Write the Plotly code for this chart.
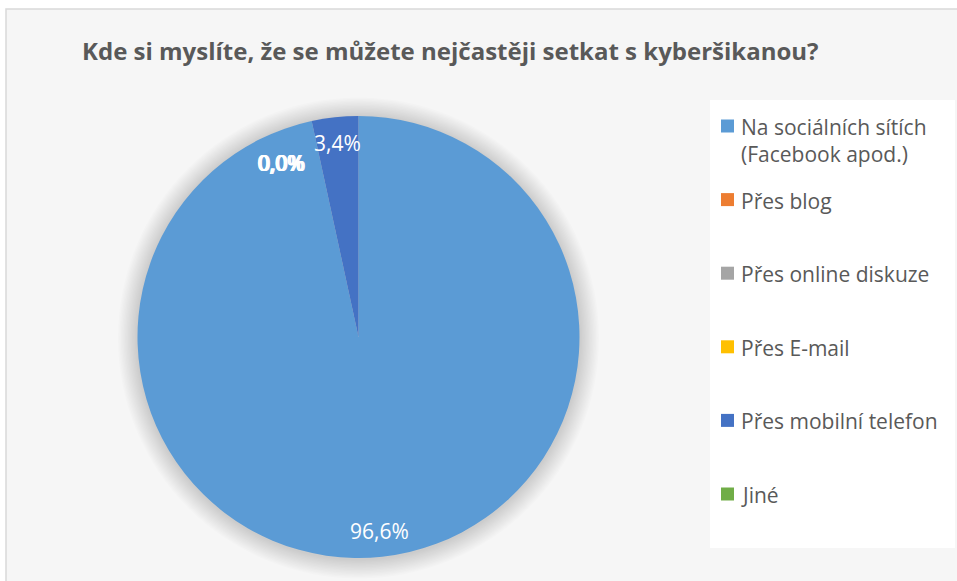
import math
import plotly.graph_objects as go

# ---- data ----
title = "Kde si myslíte, že se můžete nejčastěji setkat s kyberšikanou?"
labels = ["Na sociálních sítích<br>(Facebook apod.)", "Přes blog", "Přes online diskuze",
          "Přes E-mail", "Přes mobilní telefon", "Jiné"]
values = [96.6, 0.0, 0.0, 0.0, 3.4, 0.0]
text_labels = ["96,6%", "0,0%", "0,0%", "0,0%", "3,4%", "0,0%"]
colors = ["#5B9BD5", "#ED7D31", "#A5A5A5", "#FFC000", "#4472C4", "#70AD47"]

W, H = 957, 581
def px(x):
    return x / W
def py(y):
    return 1 - y / H

# pie geometry (pixels)
cx, cy, r = 358.5, 337, 221

fig = go.Figure()
fig.add_trace(go.Pie(
    labels=labels, values=values, sort=False, direction="clockwise", rotation=0,
    marker=dict(colors=colors, line=dict(width=0)),
    textinfo="none", hoverinfo="label+percent", showlegend=False,
    domain=dict(x=[px(cx - r), px(cx + r)], y=[py(cy + r), py(cy - r)]),
))

shapes = []
# chart area background + border
shapes.append(dict(type="rect", xref="paper", yref="paper", x0=px(6), x1=px(960), y0=py(584), y1=py(9),
                   fillcolor="#F6F6F6", line=dict(color="#D9D9D9", width=1.5), layer="below"))
# legend box
shapes.append(dict(type="rect", xref="paper", yref="paper", x0=px(710), x1=px(955), y0=py(548), y1=py(100),
                   fillcolor="#FFFFFF", line=dict(width=0), layer="below"))
# soft shadow around pie
for i in range(14, 0, -1):
    rr = r + i * 1.4
    shapes.append(dict(type="circle", xref="paper", yref="paper",
                       x0=px(cx - rr), x1=px(cx + rr), y0=py(cy + 1 + rr), y1=py(cy + 1 - rr),
                       fillcolor="rgba(0,0,0,0.011)", line=dict(width=0), layer="below"))

annotations = []
annotations.append(dict(text="<b>" + title + "</b>", x=px(450), y=py(50), xref="paper", yref="paper",
                        showarrow=False, xanchor="center", yanchor="middle",
                        font=dict(family="Open Sans", size=24, color="#595959")))

# data labels derived from values
total = sum(values)
cum = 0.0
zero_anchor = None
zero_k = 0
for v, t in zip(values, text_labels):
    start = cum / total * 360
    cum += v
    end = cum / total * 360
    if v > 0:
        mid = (start + end) / 2
        rf = 0.885
        dx = 0
    else:
        if zero_anchor is None:
            zero_anchor = start
        mid = zero_anchor - 12.0
        rf = 0.865
        dx = zero_k * 0.7
        zero_k += 1
    a = math.radians(mid)
    x = cx + rf * r * math.sin(a) + dx
    y = cy - rf * r * math.cos(a)
    annotations.append(dict(text=t, x=px(x), y=py(y), xref="paper", yref="paper", showarrow=False,
                            xanchor="center", yanchor="middle",
                            font=dict(family="Open Sans", size=21, color="#FFFFFF")))

# legend (manual)
leg_y0, leg_step = 126, 73.6
for i, (lab, col) in enumerate(zip(labels, colors)):
    yc = leg_y0 + i * leg_step
    shapes.append(dict(type="rect", xref="paper", yref="paper", x0=px(721), x1=px(734),
                       y0=py(yc + 6.5), y1=py(yc - 6.5), fillcolor=col, line=dict(width=0)))
    annotations.append(dict(text=lab, x=px(739), y=py(yc - 15), xref="paper", yref="paper",
                            showarrow=False, xanchor="left", yanchor="top", align="left",
                            font=dict(family="Open Sans", size=21, color="#595959")))

fig.update_layout(width=W, height=H, margin=dict(l=0, r=0, t=0, b=0),
                  paper_bgcolor="#FFFFFF", plot_bgcolor="#FFFFFF",
                  shapes=shapes, annotations=annotations)
fig.write_html("out.html", config={"displayModeBar": False},
               post_script="document.body.style.margin='0';document.body.style.overflow='hidden';")
